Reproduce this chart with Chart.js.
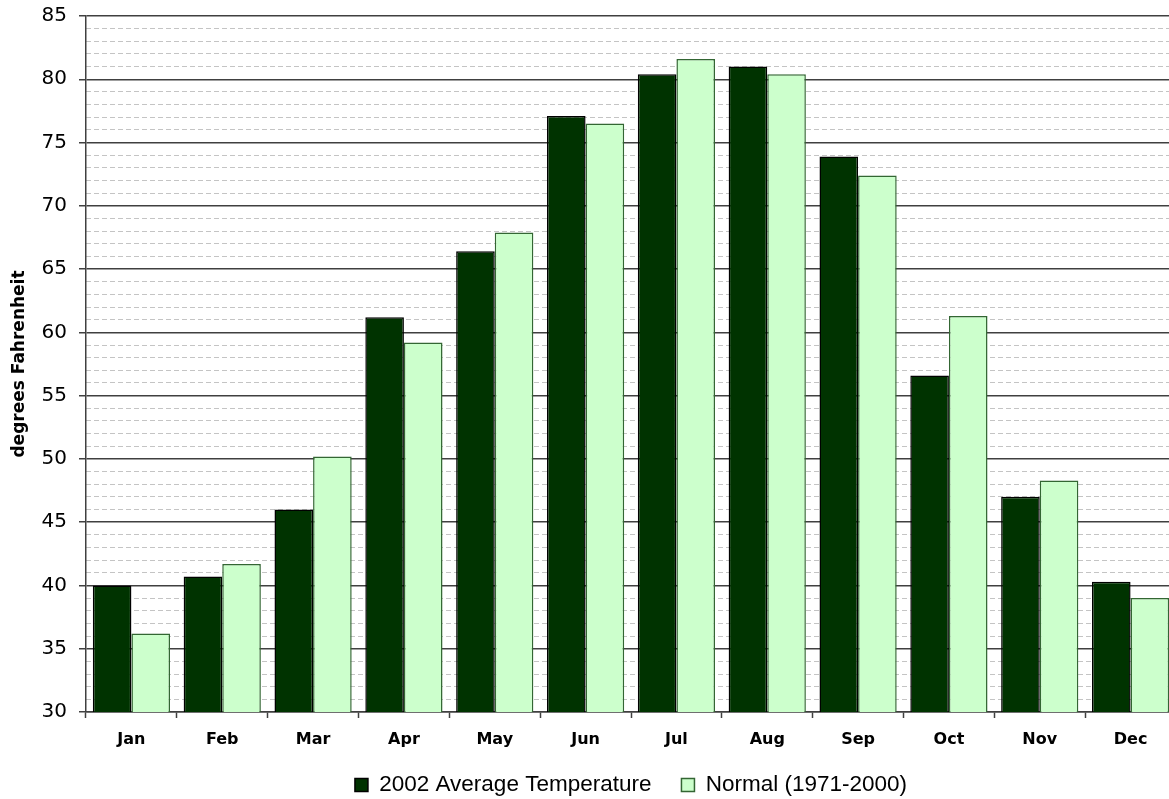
<!DOCTYPE html>
<html>
<head>
<meta charset="utf-8">
<script src="https://cdn.jsdelivr.net/npm/chart.js@4"></script>
<style>
  html, body { margin: 0; padding: 0; background: #fff; overflow: hidden; }
  #wrap { width: 1169px; height: 799px; overflow: hidden; position: relative; }
  #chart { position: absolute; left: 0; top: 0; }
</style>
</head>
<body>
<div id="wrap">
  <canvas id="chart" width="1180" height="799"></canvas>
</div>
<script>
// Data
const months = ['Jan', 'Feb', 'Mar', 'Apr', 'May', 'Jun', 'Jul', 'Aug', 'Sep', 'Oct', 'Nov', 'Dec'];
const avg2002 = [40.0, 40.7, 46.0, 61.2, 66.4, 77.1, 80.4, 81.0, 73.9, 56.6, 47.0, 40.3];
const normal = [36.2, 41.7, 50.2, 59.2, 67.9, 76.5, 81.6, 80.4, 72.4, 61.3, 48.3, 39.0];
const yMin = 30;
const yMax = 85;

const axisGray = '#404040';
const legendPad = 30;
const legendFont = 22.5;

// legend: centred under the plot area, text line at y=785
const placeLegend = {
    id: 'placeLegend',
    afterLayout(chart) {
        const lg = chart.legend;
        if (!lg) return;
        const cx = (chart.chartArea.left + chart.chartArea.right) / 2;
        const shift = cx - (lg.left + lg.right) / 2;
        lg.left += shift;
        lg.right += shift;
        lg.top = 785 - legendPad - legendFont / 2;
        lg.bottom = chart.height;
    }
};

const ctx = document.getElementById('chart').getContext('2d');
new Chart(ctx, {
    type: 'bar',
    data: {
        labels: months,
        datasets: [{
            label: '2002 Average Temperature',
            data: avg2002,
            backgroundColor: '#003300',
            borderColor: '#000000',
            borderWidth: 1.5,
            borderSkipped: 'bottom'
        }, {
            label: 'Normal (1971-2000)',
            data: normal,
            backgroundColor: '#ccffcc',
            borderColor: '#336633',
            borderWidth: 1.5,
            borderSkipped: 'bottom'
        }]
    },
    options: {
        responsive: false,
        animation: false,
        devicePixelRatio: 1,
        layout: { padding: { left: 0, right: 4, top: 16, bottom: 0 } },
        datasets: { bar: { categoryPercentage: 0.85, barPercentage: 1.0 } },
        plugins: {
            tooltip: { enabled: false },
            legend: {
                position: 'bottom',
                maxHeight: 41,
                labels: {
                    color: '#000',
                    font: { family: '"Liberation Sans", Arial, sans-serif', size: legendFont },
                    boxWidth: 13,
                    boxHeight: 13,
                    padding: legendPad
                }
            }
        },
        scales: {
            x: {
                grid: {
                    offset: true,
                    drawOnChartArea: false,
                    tickLength: 6,
                    tickColor: axisGray,
                    tickWidth: 1.5
                },
                border: { color: axisGray, width: 1.5 },
                ticks: {
                    color: '#000',
                    padding: 12,
                    font: { family: '"DejaVu Sans", Verdana, sans-serif', size: 16, weight: 'bold' }
                },
                afterFit(scale) { scale.height = 46; }
            },
            yMinor: {
                position: 'left',
                min: yMin,
                max: yMax,
                ticks: { stepSize: 1, display: false },
                grid: {
                    drawTicks: false,
                    lineWidth: 1,
                    color: c => (c.tick && c.tick.value % 5 === 0) ? 'rgba(0,0,0,0)' : '#c4c4c4'
                },
                border: { display: false, dash: [5, 3] },
                afterFit(scale) {
                    scale.width = 0;
                    scale.paddingTop = 0;
                    scale.paddingBottom = 0;
                }
            },
            y: {
                position: 'left',
                min: yMin,
                max: yMax,
                ticks: {
                    stepSize: 5,
                    color: '#000',
                    padding: 12,
                    font: { family: '"DejaVu Sans", Verdana, sans-serif', size: 20 }
                },
                grid: {
                    color: axisGray,
                    lineWidth: 1.5,
                    tickLength: 7,
                    tickColor: axisGray
                },
                border: { color: axisGray, width: 1.5 },
                title: {
                    display: true,
                    text: 'degrees Fahrenheit',
                    color: '#000',
                    padding: { top: 9, bottom: 0 },
                    font: { family: '"DejaVu Sans", Verdana, sans-serif', size: 17, weight: 'bold' }
                },
                afterFit(scale) {
                    scale.width = 86;
                    scale.paddingTop = 0;
                    scale.paddingBottom = 0;
                }
            }
        }
    },
    plugins: [placeLegend]
});
</script>
</body>
</html>
